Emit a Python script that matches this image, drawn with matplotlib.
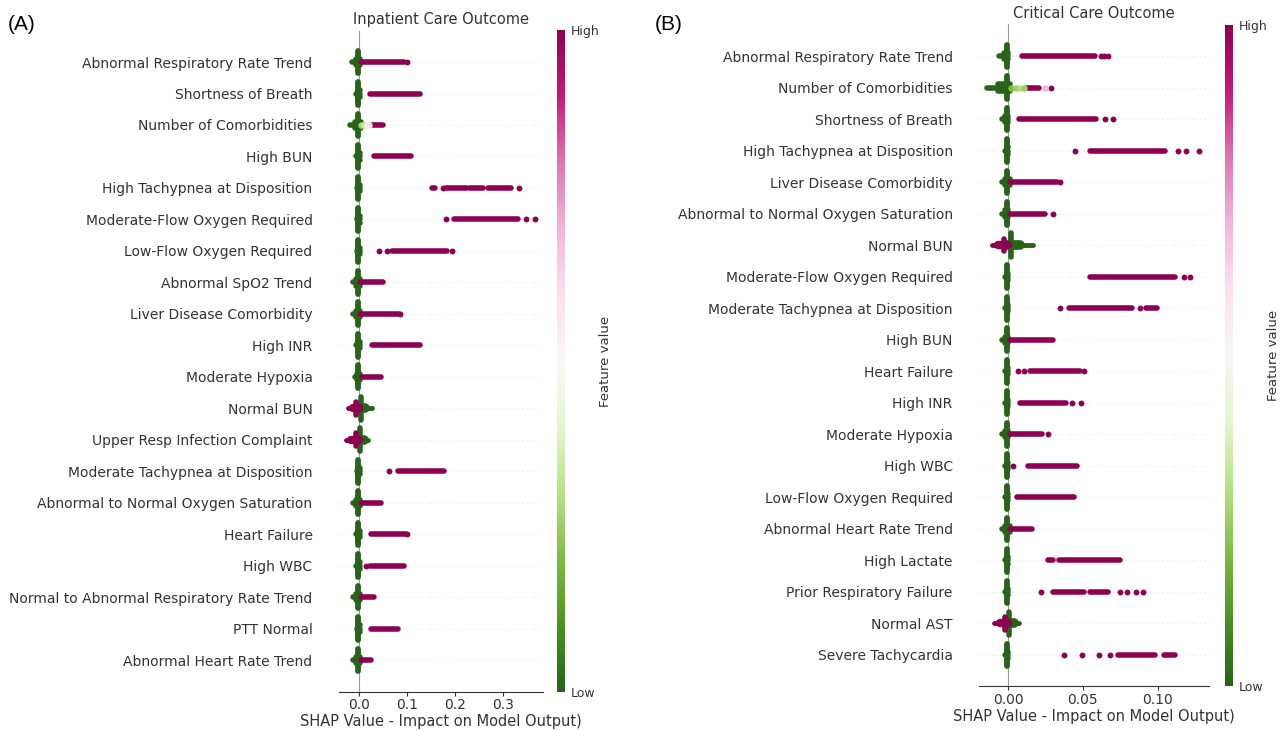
import numpy as np
import matplotlib
matplotlib.use("Agg")
import matplotlib.pyplot as plt
from matplotlib.cm import ScalarMappable

# --------------------------
# Data
# --------------------------
# (A) Inpatient care outcome, top feature first
A_features = [
    "Abnormal Respiratory Rate Trend", "Shortness of Breath", "Number of Comorbidities",
    "High BUN", "High Tachypnea at Disposition", "Moderate-Flow Oxygen Required",
    "Low-Flow Oxygen Required", "Abnormal SpO2 Trend", "Liver Disease Comorbidity",
    "High INR", "Moderate Hypoxia", "Normal BUN", "Upper Resp Infection Complaint",
    "Moderate Tachypnea at Disposition", "Abnormal to Normal Oxygen Saturation",
    "Heart Failure", "High WBC", "Normal to Abnormal Respiratory Rate Trend",
    "PTT Normal", "Abnormal Heart Rate Trend",
]
# horizontal extent of the low-value (green) cluster
A_low = [(-0.014, 0.002), (-0.006, 0.002), (-0.018, 0.004), (-0.006, 0.002), (-0.005, 0.001),
         (-0.005, 0.001), (-0.005, 0.001), (-0.013, 0.002), (-0.012, 0.002), (-0.006, 0.002),
         (-0.008, 0.002), (0.0, 0.026), (0.0, 0.019), (-0.005, 0.001), (-0.012, 0.002),
         (-0.006, 0.002), (-0.006, 0.002), (-0.012, 0.002), (-0.005, 0.001), (-0.012, 0.002)]
# dense runs of high-value (magenta) points
A_runs = [
    [(0.003, 0.093)], [(0.022, 0.126)], [(0.026, 0.049)], [(0.030, 0.108)],
    [(0.151, 0.158), (0.181, 0.224), (0.231, 0.259), (0.268, 0.316)],
    [(0.198, 0.332)], [(0.068, 0.183)], [(0.002, 0.049)], [(0.002, 0.083)],
    [(0.026, 0.127)], [(0.007, 0.046)], [], [], [(0.081, 0.177)], [(0.003, 0.046)],
    [(0.025, 0.098)], [(0.023, 0.094)], [(0.003, 0.032)], [(0.025, 0.082)], [(0.003, 0.024)],
]
# isolated high-value points
A_dots = [[0.1], [], [], [], [0.175, 0.333], [0.18, 0.348, 0.367], [0.042, 0.059, 0.193],
          [], [0.085], [], [], [], [], [0.063], [], [0.1], [0.014], [], [], []]
# high values pulling the prediction down (left lobe)
A_neg = [0, 0, 0, 0, 0, 0, 0, 0, 0, 0, 0, -0.023, -0.027, 0, 0, 0, 0, 0, 0, 0]
# mid feature values (x, colour position 0..1)
A_mid = {2: [(0.004, 0.25), (0.008, 0.3), (0.012, 0.35), (0.016, 0.45), (0.020, 0.6)]}
A_center = -0.003

# (B) Critical care outcome
B_features = [
    "Abnormal Respiratory Rate Trend", "Number of Comorbidities", "Shortness of Breath",
    "High Tachypnea at Disposition", "Liver Disease Comorbidity",
    "Abnormal to Normal Oxygen Saturation", "Normal BUN", "Moderate-Flow Oxygen Required",
    "Moderate Tachypnea at Disposition", "High BUN", "Heart Failure", "High INR",
    "Moderate Hypoxia", "High WBC", "Low-Flow Oxygen Required", "Abnormal Heart Rate Trend",
    "High Lactate", "Prior Respiratory Failure", "Normal AST", "Severe Tachycardia",
]
B_low = [(-0.006, 0.0), (-0.014, 0.001), (-0.004, 0.0), (-0.002, 0.0), (-0.004, 0.001),
         (-0.004, 0.0), (0.0, 0.0165), (-0.002, 0.0), (-0.002, 0.0), (-0.004, 0.0),
         (-0.002, 0.0), (-0.002, 0.0), (-0.004, 0.0), (-0.002, 0.0), (-0.002, 0.0),
         (-0.004, 0.0015), (-0.002, 0.0), (-0.002, 0.0), (0.0, 0.0074), (-0.002, 0.0)]
B_runs = [
    [(0.009, 0.058)], [(0.013, 0.021)], [(0.007, 0.059)], [(0.055, 0.105)],
    [(0.001, 0.033)], [(0.001, 0.025)], [], [(0.055, 0.112)],
    [(0.041, 0.083), (0.092, 0.0995)], [(0.001, 0.030)], [(0.0147, 0.048)],
    [(0.008, 0.039)], [(0.001, 0.023)], [(0.0134, 0.046)], [(0.006, 0.044)],
    [(0.001, 0.0158)], [(0.027, 0.030), (0.034, 0.075)], [(0.030, 0.051), (0.055, 0.067)],
    [], [(0.0738, 0.0984), (0.104, 0.112)],
]
B_dots = [[0.062, 0.064, 0.067], [0.029], [0.065, 0.070], [0.045, 0.114, 0.119, 0.128],
          [0.035], [0.030], [], [0.118, 0.122], [0.035, 0.088], [], [0.0067, 0.011, 0.051],
          [0.0426, 0.049], [0.027], [0.0035], [], [], [],
          [0.022, 0.075, 0.0795, 0.0857, 0.090], [], [0.0375, 0.0493, 0.061, 0.068]]
B_neg = [0, 0, 0, 0, 0, 0, -0.011, 0, 0, 0, 0, 0, 0, 0, 0, 0, 0, 0, -0.0094, 0]
B_mid = {1: [(0.002, 0.2), (0.005, 0.25), (0.008, 0.3), (0.011, 0.25), (0.025, 0.7)]}
B_center = -0.001

A_ticks = [0.0, 0.1, 0.2, 0.3]
B_ticks = [0.00, 0.05, 0.10]

cmap = plt.get_cmap("PiYG_r")
LOW = cmap(0.0)
HIGH = cmap(1.0)
TXT = "#333333"


def seg(ax, xs, ys, color, lw):
    ax.plot(xs, ys, color=color, lw=lw, solid_capstyle="round")


def draw_panel(ax, feats, low, runs, dots, neg, mid, center, xlim, ticks, fmt, title):
    n = len(feats)
    ys = np.arange(n)[::-1]
    for y in ys:
        ax.axhline(y, color="#cccccc", lw=0.5, dashes=(1, 5), zorder=-1)
    ax.axvline(0, color="#999999", lw=0.8, zorder=-1)

    for i, y in enumerate(ys):
        l, r = low[i]
        if neg[i] < 0:
            # lobe: green to the right of zero, magenta to the left
            x0 = 0.12 * r
            seg(ax, [x0, x0], [y - 0.37, y + 0.37], LOW, 4)
            seg(ax, [l, r], [y, y], LOW, 3.5)
            seg(ax, [0, 0.5 * r], [y, y], LOW, 7)
            seg(ax, [neg[i], 0], [y, y], HIGH, 3.5)
            seg(ax, [neg[i] * 0.6, 0], [y, y], HIGH, 6)
            seg(ax, [neg[i] * 0.25, neg[i] * 0.25], [y - 0.2, y + 0.2], HIGH, 4)
        else:
            seg(ax, [center, center], [y - 0.36, y + 0.36], LOW, 4.2)
            seg(ax, [l, r], [y, y], LOW, 4)
            seg(ax, [l * 0.5, r], [y - 0.1, y - 0.1], LOW, 4)
            seg(ax, [l * 0.5, r], [y + 0.1, y + 0.1], LOW, 4)
        for a, b in runs[i]:
            seg(ax, [a, b], [y, y], HIGH, 4)
        if dots[i]:
            ax.scatter(dots[i], [y] * len(dots[i]), s=18, color=HIGH, lw=0)
        for x, v in mid.get(i, []):
            ax.scatter([x], [y], s=22, color=cmap(v), lw=0, zorder=3)

    ax.set_xlim(*xlim)
    ax.set_ylim(-1, n)
    ax.set_yticks(ys)
    ax.set_yticklabels(feats, fontsize=10, color=TXT)
    ax.tick_params(axis="y", length=0, pad=19)
    ax.set_xticks(ticks)
    ax.set_xticklabels([fmt.format(t) for t in ticks], fontsize=10, color=TXT)
    ax.tick_params(axis="x", length=3, width=0.8, color=TXT, pad=2)
    for s in ["left", "right", "top"]:
        ax.spines[s].set_visible(False)
    ax.spines["bottom"].set_color(TXT)
    ax.spines["bottom"].set_linewidth(0.8)
    ax.set_xlabel("SHAP Value - Impact on Model Output)", fontsize=10.5, color=TXT, labelpad=1)
    ax.set_title(title, fontsize=10.5, color=TXT, pad=5)


def add_cbar(fig, rect):
    cax = fig.add_axes(rect)
    cb = fig.colorbar(ScalarMappable(cmap=cmap), cax=cax, ticks=[0, 1])
    cb.set_ticklabels(["Low", "High"])
    cb.outline.set_visible(False)
    cb.ax.tick_params(length=0, labelsize=9, labelcolor=TXT, pad=4)
    cb.set_label("Feature value", fontsize=9.5, color=TXT, labelpad=0)


fig = plt.figure(figsize=(12.83, 7.31), dpi=100)

axA = fig.add_axes([0.2642, 0.054, 0.159, 0.9042])
draw_panel(axA, A_features, A_low, A_runs, A_dots, A_neg, A_mid, A_center,
           (-0.042, 0.383), A_ticks, "{:.1f}", "Inpatient Care Outcome")
add_cbar(fig, [0.4341, 0.0534, 0.0062, 0.9056])

axB = fig.add_axes([0.7631, 0.0609, 0.1793, 0.9056])
draw_panel(axB, B_features, B_low, B_runs, B_dots, B_neg, B_mid, B_center,
           (-0.0194, 0.1345), B_ticks, "{:.2f}", "Critical Care Outcome")
add_cbar(fig, [0.9548, 0.0616, 0.0062, 0.9042])

fig.text(0.0062, 0.966, "(A)", fontsize=15, family="Liberation Sans", va="center")
fig.text(0.5105, 0.966, "(B)", fontsize=15, family="Liberation Sans", va="center")

fig.savefig("out.png", dpi=100)
